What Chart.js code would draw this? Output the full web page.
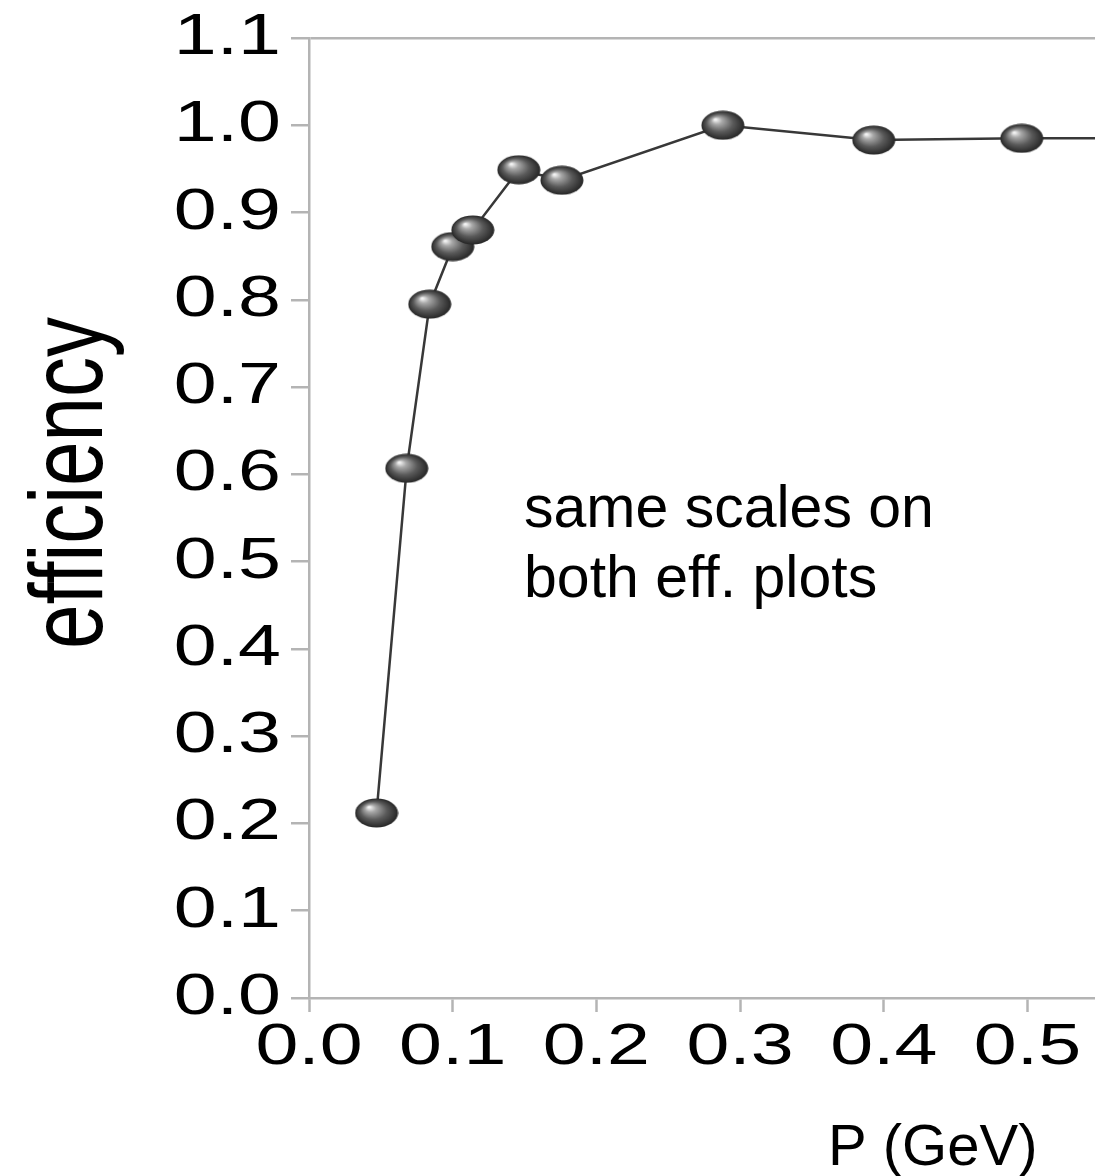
<!DOCTYPE html>
<html>
<head>
<meta charset="utf-8">
<script src="https://cdn.jsdelivr.net/npm/chart.js@4.4.1/dist/chart.umd.min.js"></script>
<style>
  html, body { margin: 0; padding: 0; background: #ffffff; }
  #c { display: block; }
</style>
</head>
<body>
<canvas id="c" width="1095" height="1176"></canvas>
<script>
// ---- data ----
const momentum   = [0.047, 0.068, 0.084, 0.100, 0.114, 0.146, 0.176, 0.288, 0.393, 0.496, 0.600];
const efficiency = [0.212, 0.607, 0.795, 0.861, 0.880, 0.949, 0.937, 1.000, 0.983, 0.985, 0.985];
const xTickValues = [0.0, 0.1, 0.2, 0.3, 0.4, 0.5];
const yTickValues = [0.0, 0.1, 0.2, 0.3, 0.4, 0.5, 0.6, 0.7, 0.8, 0.9, 1.0, 1.1];
const xTitle = 'P (GeV)';
const yTitle = 'efficiency';
const noteLines = ['same scales on', 'both eff. plots'];

const FONT = '"Liberation Sans", Arial, sans-serif';
const AXIS_GRAY = '#b4b4b4';

function makeBall(w, h) {
  const c = document.createElement('canvas');
  c.width = w; c.height = h;
  const g = c.getContext('2d');
  g.save();
  g.translate(w / 2, h / 2);
  g.scale(w / 2 - 0.5, h / 2 - 0.5);
  const grd = g.createRadialGradient(-0.35, -0.4, 0.04, 0, 0, 1);
  grd.addColorStop(0, '#f4f4f4');
  grd.addColorStop(0.22, '#a8a8a8');
  grd.addColorStop(0.6, '#5a5a5a');
  grd.addColorStop(1, '#262626');
  g.fillStyle = grd;
  g.beginPath();
  g.arc(0, 0, 1, 0, Math.PI * 2);
  g.fill();
  g.restore();
  return c;
}
const ball = makeBall(44, 30);

const points = momentum.map((x, i) => ({ x: x, y: efficiency[i] }));

// stretch tick labels horizontally (reference labels are wide)
const stretchPlugin = {
  id: 'stretchTicks',
  beforeDraw(chart) {
    const ctx = chart.ctx;
    const proto = CanvasRenderingContext2D.prototype.rotate;
    ctx.rotate = function (a) { proto.call(this, a); this.scale(1.33, 1); };
  },
  beforeDatasetsDraw(chart) {
    delete chart.ctx.rotate;
  },
  afterDraw(chart) {
    const ctx = chart.ctx;
    delete ctx.rotate;
    ctx.save();
    ctx.fillStyle = '#000000';
    // y title (rotated)
    ctx.save();
    ctx.font = '80px ' + FONT;
    ctx.textAlign = 'center';
    ctx.textBaseline = 'alphabetic';
    ctx.translate(102, 483);
    ctx.rotate(-Math.PI / 2);
    ctx.scale(1, 1.3);
    ctx.fillText(yTitle, 0, 0);
    ctx.restore();
    // x title
    ctx.font = '58px ' + FONT;
    ctx.textAlign = 'left';
    ctx.textBaseline = 'alphabetic';
    ctx.fillText(xTitle, 828, 1165);
    // note
    ctx.font = '59px ' + FONT;
    ctx.fillText(noteLines[0], 524, 527);
    ctx.fillText(noteLines[1], 524, 597);
    ctx.restore();
  }
};

new Chart(document.getElementById('c'), {
  type: 'line',
  data: {
    datasets: [{
      data: points,
      borderColor: '#383838',
      borderWidth: 2.5,
      tension: 0,
      fill: false,
      pointStyle: ball,
      pointRadius: 15,
      pointHoverRadius: 15,
      pointBorderWidth: 0
    }]
  },
  options: {
    responsive: false,
    animation: false,
    events: [],
    layout: { autoPadding: false, padding: { top: 38, right: 0, bottom: 0, left: 0 } },
    plugins: { legend: { display: false }, tooltip: { enabled: false } },
    scales: {
      x: {
        type: 'linear',
        min: 0,
        max: 0.547,
        afterBuildTicks(scale) { scale.ticks = xTickValues.map(v => ({ value: v })); },
        afterFit(scale) { scale.height = 178; scale.paddingLeft = 0; scale.paddingRight = 0; },
        border: { display: true, color: AXIS_GRAY, width: 2.5 },
        grid: {
          drawOnChartArea: false,
          drawTicks: true,
          tickLength: 14,
          tickColor: AXIS_GRAY,
          tickWidth: 2.5,
          color: 'transparent'
        },
        ticks: {
          color: '#000000',
          padding: 1,
          maxRotation: 0,
          autoSkip: false,
          font: { family: FONT, size: 58, lineHeight: 1.2 },
          callback: v => Number(v).toFixed(1)
        },
        title: { display: false }
      },
      y: {
        type: 'linear',
        min: 0,
        max: 1.1,
        afterBuildTicks(scale) { scale.ticks = yTickValues.map(v => ({ value: v })); },
        afterFit(scale) { scale.width = 309; scale.paddingTop = 0; scale.paddingBottom = 0; },
        border: { display: true, color: AXIS_GRAY, width: 2.5 },
        grid: {
          drawTicks: true,
          tickLength: 18,
          tickColor: AXIS_GRAY,
          tickWidth: 2.5,
          lineWidth: 2.5,
          color: ctx => (ctx.tick && Math.abs(ctx.tick.value - 1.1) < 1e-9) ? AXIS_GRAY : 'transparent'
        },
        ticks: {
          color: '#000000',
          padding: 10,
          autoSkip: false,
          font: { family: FONT, size: 58, lineHeight: 1.2 },
          callback: v => Number(v).toFixed(1)
        },
        title: { display: false }
      }
    }
  },
  plugins: [stretchPlugin]
});
</script>
</body>
</html>
